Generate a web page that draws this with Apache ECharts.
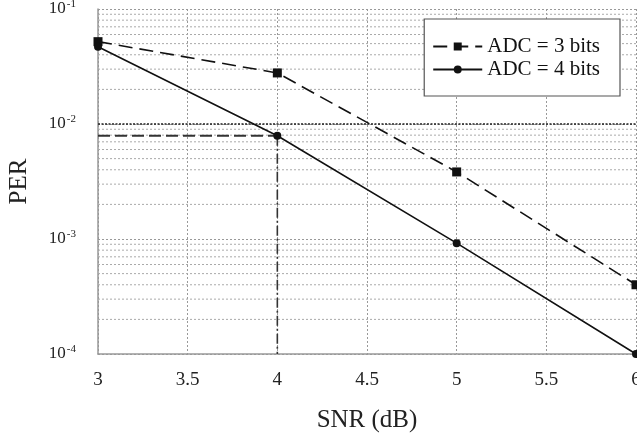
<!DOCTYPE html>
<html><head><meta charset="utf-8">
<script src="https://cdn.jsdelivr.net/npm/echarts@6/dist/echarts.min.js"></script>
<style>html,body{margin:0;padding:0;background:#fff}#c{width:637px;height:438px}</style>
</head><body><div id="c"></div>
<script>
const snr = [3, 4, 5, 6];
const per3bits = [0.052, 0.0278, 0.00383, 0.0004];
const per4bits = [0.047, 0.0079, 0.00092, 0.0001];
const seriesNames = ['ADC = 3 bits', 'ADC = 4 bits'];
const refSnr = 4;           // reference point on 4-bit curve
const xTicks = [3, 3.5, 4, 4.5, 5, 5.5, 6];
const yDecades = [1e-4, 1e-3, 1e-2, 1e-1];

const FONT = '"Liberation Serif", "DejaVu Serif", serif';
const refPer = per4bits[snr.indexOf(refSnr)];
const xMin = xTicks[0], xMax = xTicks[xTicks.length - 1];

// minor log grid values (2..9 times each decade)
const minorVals = [];
for (let d = 0; d < yDecades.length - 1; d++) {
  for (let m = 2; m <= 9; m++) minorVals.push(+(yDecades[d] * m).toPrecision(3));
}
const gridSeries = minorVals.map(v => ({
  type: 'line', silent: true, symbol: 'none', legendHoverLink: false,
  data: [[xMin, v], [xMax, v]],
  lineStyle: {color: '#aaa', type: [2, 2], width: 1}, z: 1
}));

const chart = echarts.init(document.getElementById('c'), null, {renderer: 'canvas'});
chart.setOption({
  backgroundColor: '#fff',
  animation: false,
  textStyle: {fontFamily: FONT},
  grid: {left: 98, right: 1, top: 9, bottom: 84, containLabel: false, outerBoundsMode: 'none'},
  legend: {
    right: 17, top: 19,
    orient: 'vertical',
    backgroundColor: '#fff',
    borderColor: '#555',
    borderWidth: 1.2,
    borderRadius: 0,
    padding: [17, 20, 16, 8],
    itemGap: 2,
    itemWidth: 49, itemHeight: 10,
    formatter: name => '{t|' + name + '}',
    textStyle: {
      fontFamily: FONT, fontSize: 21, color: '#111',
      rich: {t: {fontFamily: FONT, fontSize: 21, color: '#111'}}
    },
    data: seriesNames
  },
  xAxis: {
    type: 'value', min: xMin, max: xMax, interval: 0.5,
    name: 'SNR (dB)', nameLocation: 'middle', nameGap: 54,
    nameTextStyle: {fontFamily: FONT, fontSize: 25, color: '#222'},
    axisLine: {show: true, lineStyle: {color: '#999', width: 1.5}},
    axisTick: {show: false},
    axisLabel: {fontFamily: FONT, fontSize: 19, color: '#222', margin: 17,
      formatter: v => String(v)},
    splitLine: {show: true, lineStyle: {color: '#999', type: [2, 2], width: 1}}
  },
  yAxis: {
    type: 'log', logBase: 10, min: yDecades[0], max: yDecades[yDecades.length - 1],
    name: 'PER', nameLocation: 'middle', nameGap: 66,
    nameTextStyle: {fontFamily: FONT, fontSize: 25, color: '#222'},
    axisLine: {show: true, lineStyle: {color: '#999', width: 1.5}},
    axisTick: {show: false},
    axisLabel: {
      margin: 22,
      formatter: v => '{b|10}{s|' + Math.round(Math.log10(v)) + '}',
      rich: {
        b: {fontFamily: FONT, fontSize: 17, color: '#222'},
        s: {fontFamily: FONT, fontSize: 11, color: '#222', padding: [0, 0, 10, 1]}
      }
    },
    splitLine: {show: true, lineStyle: {color: '#999', type: [2, 2], width: 1}}
  },
  series: gridSeries.concat([
    {
      type: 'line', silent: true, symbol: 'none',
      data: [[xMin, yDecades[2]], [xMax, yDecades[2]]],
      lineStyle: {color: '#222', type: [2, 1.5], width: 1.5}, z: 2
    },
    {
      type: 'line', silent: true, symbol: 'none',
      data: [[xMin, refPer], [refSnr, refPer]],
      lineStyle: {color: '#333', type: [12, 5], width: 1.8}, z: 2
    },
    {
      type: 'line', silent: true, symbol: 'none',
      data: [[refSnr, refPer], [refSnr, yDecades[0]]],
      lineStyle: {color: '#333', type: [10, 3, 2, 3], width: 1.6}, z: 2
    },
    {
      name: seriesNames[0], type: 'line',
      data: snr.map((x, i) => [x, per3bits[i]]),
      symbol: 'rect', symbolSize: 9,
      itemStyle: {color: '#111'},
      lineStyle: {color: '#111', type: [14, 7], width: 1.6}, z: 3
    },
    {
      name: seriesNames[1], type: 'line',
      data: snr.map((x, i) => [x, per4bits[i]]),
      symbol: 'circle', symbolSize: 8,
      itemStyle: {color: '#111'},
      lineStyle: {color: '#111', width: 1.6}, z: 3
    }
  ])
});
</script></body></html>
